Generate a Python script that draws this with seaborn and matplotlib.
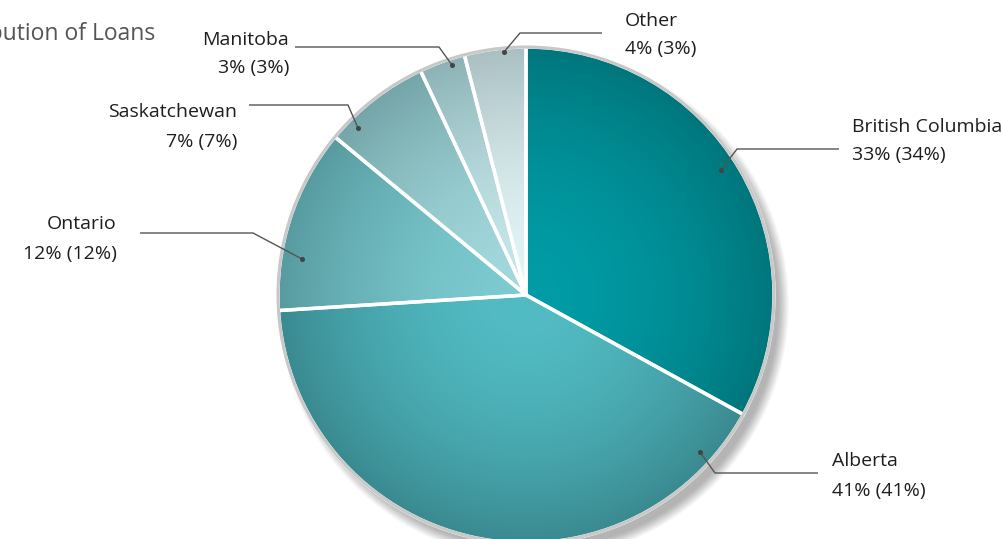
import numpy as np
import matplotlib
matplotlib.use("Agg")
import matplotlib.pyplot as plt
import matplotlib.colors as mcolors
import seaborn as sns
from matplotlib.patches import Circle

# data
regions = ["British Columbia", "Alberta", "Ontario", "Saskatchewan", "Manitoba", "Other"]
share_current = [33, 41, 12, 7, 3, 4]
share_prior = [34, 41, 12, 7, 3, 3]
title = "Distribution of Loans"

# slice shading: centre colour and rim colour
inner_colors = ["#009ca6", "#52bcc4", "#7ccbd0", "#a2d9dd", "#c4e7ea", "#e2f4f6"]
outer_colors = ["#00767c", "#3a8a90", "#579ba0", "#74a5a8", "#8cb2b5", "#a9bfc1"]

# layout in pixels (y from the top): dot, elbow, line end, text x, name baseline, value baseline, alignment
label_layout = {
    "British Columbia": ((721, 170), (737, 149), (839, 149), 852, 132, 160, "left"),
    "Alberta": ((700, 452), (715, 473), (818, 473), 832, 466, 496, "left"),
    "Ontario": ((302, 259), (253, 233), (140, 233), 117, 229, 259, "right"),
    "Saskatchewan": ((358, 128), (348, 105), (249, 105), 237, 117, 147, "right"),
    "Manitoba": ((452, 65), (439, 47), (295, 47), 289, 45, 73, "right"),
    "Other": ((504, 52), (520, 33), (602, 33), 625, 26, 54, "left"),
}

W, H = 1003, 539
cx, cy, R = 526, H - 295, 248


def py(y):
    return H - y


sns.set_theme(style="white")
plt.rcParams["font.family"] = ["Open Sans", "DejaVu Sans"]

fig = plt.figure(figsize=(W / 100, H / 100), dpi=100)
ax = fig.add_axes([0, 0, 1, 1])

# soft drop shadow, mostly towards the lower right
for k in range(16):
    ax.add_patch(Circle((cx + 8, cy - 10), R + 7 - k * 0.7, color="black",
                        alpha=0.02, lw=0, zorder=0))

mid_colors = [mcolors.to_hex(0.5 * np.array(mcolors.to_rgb(a)) + 0.5 * np.array(mcolors.to_rgb(b)))
              for a, b in zip(inner_colors, outer_colors)]

wedges, _ = ax.pie(share_current, colors=mid_colors, startangle=90, counterclock=False,
                   center=(cx, cy), radius=R,
                   wedgeprops=dict(edgecolor="white", linewidth=2.5))

# radial gradient inside each slice
n = 400
gx, gy = np.meshgrid(np.linspace(-1, 1, n), np.linspace(-1, 1, n))
t = np.clip(np.hypot(gx, gy), 0, 1) ** 1.8
for w, ci, co in zip(wedges, inner_colors, outer_colors):
    c_in = np.array(mcolors.to_rgb(ci))
    c_out = np.array(mcolors.to_rgb(co))
    img = c_in[None, None, :] * (1 - t[..., None]) + c_out[None, None, :] * t[..., None]
    im = ax.imshow(img, extent=[cx - R, cx + R, cy - R, cy + R], origin="lower",
                   zorder=1.5, interpolation="bilinear")
    im.set_clip_path(w)
    w.set_facecolor("none")
    w.set_zorder(2)

ax.add_patch(Circle((cx, cy), R, fill=False, ec="#c8c8c8", lw=2.2, zorder=3))

# labels with leader lines
for name, cur, prev in zip(regions, share_current, share_prior):
    dot, elbow, end, tx, ny, vy, ha = label_layout[name]
    xs = [dot[0], elbow[0], end[0]]
    ys = [py(dot[1]), py(elbow[1]), py(end[1])]
    ax.plot(xs, ys, color="#555555", lw=1, zorder=4, solid_capstyle="butt")
    ax.plot(dot[0], py(dot[1]), "o", color="#444444", ms=2.6, zorder=5)
    ax.text(tx, py(ny), name, ha=ha, va="baseline", fontsize=14, color="#1e1e1e")
    ax.text(tx, py(vy), f"{cur}% ({prev}%)", ha=ha, va="baseline", fontsize=14, color="#1e1e1e")

ax.text(155, py(40), title, ha="right", va="baseline", fontsize=16.5, color="#555555")

ax.set_xlim(0, W)
ax.set_ylim(0, H)
ax.set_aspect("equal")
ax.axis("off")

fig.savefig("out.png", dpi=100)
